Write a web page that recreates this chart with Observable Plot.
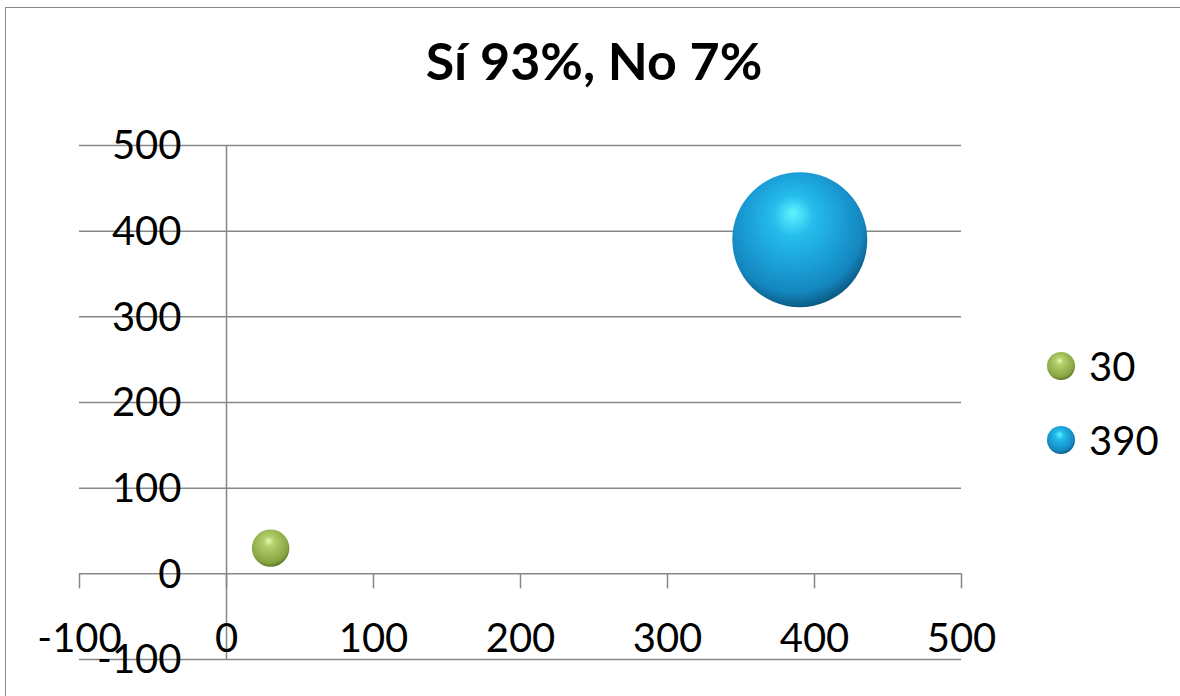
<!DOCTYPE html>
<html>
<head>
<meta charset="utf-8">
<script src="https://cdn.jsdelivr.net/npm/d3@7"></script>
<script src="https://cdn.jsdelivr.net/npm/@observablehq/plot@0.6"></script>
<style>
  html, body { margin: 0; padding: 0; background: #fff; overflow: hidden; }
  #chart { position: relative; width: 1180px; height: 696px; font-family: Lato, "Open Sans", sans-serif; color: #000; }
  #chart svg.plot { position: absolute; left: 0; top: 0; }
  #border { position: absolute; left: 5px; top: 7px; width: 1300px; height: 800px;
            border-left: 1.6px solid #8a8a8a; border-top: 1.6px solid #8a8a8a; }
  #title { position: absolute; left: 0; width: 1188px; top: 34px; text-align: center;
           font-weight: 700; font-size: 52px; line-height: 52px; white-space: nowrap; }
  .legend-item { position: absolute; display: flex; align-items: center; font-size: 40px; line-height: 40px; }
  .legend-item svg { margin-right: 13px; }
</style>
</head>
<body>
<div id="chart">
  <div id="border"></div>
  <div id="title"></div>
</div>
<script>
// Chart text and values
const title = "Sí 93%, No 7%";
const seriesNames = ["30", "390"];
const bubbleX = [30, 390];
const bubbleY = [30, 390];
const bubbleSize = [30, 390];
const xTicks = [-100, 0, 100, 200, 300, 400, 500];
const yTicks = [-100, 0, 100, 200, 300, 400, 500];

// Shaded sphere fills, one per series
const sphereFills = [
  {id: "ballGreen", stops: [[0, "#e6f8b4"], [0.22, "#b6d16e"], [0.6, "#98b652"], [0.85, "#86a443"], [1, "#5c7826"]]},
  {id: "ballBlue",  stops: [[0, "#62f4ff"], [0.25, "#25bdec"], [0.6, "#1a9dd5"], [0.85, "#1486bd"], [1, "#0a5b86"]]}
];

const bubbles = bubbleX.map((x, i) => ({
  name: seriesNames[i], x, y: bubbleY[i], size: bubbleSize[i], fill: `url(#${sphereFills[i].id})`
}));

const chart = document.getElementById("chart");
document.getElementById("title").textContent = title;

const lineColor = "#878787";
const plot = Plot.plot({
  width: 1180,
  height: 696,
  margin: 0,
  style: {fontFamily: "Lato, 'Open Sans', sans-serif", background: "transparent", overflow: "visible"},
  x: {domain: [xTicks[0], xTicks[xTicks.length - 1]], range: [79, 961], axis: null},
  y: {domain: [yTicks[0], yTicks[yTicks.length - 1]], range: [659, 145], axis: null},
  r: {type: "sqrt", domain: [0, 390], range: [0, 67.5]},
  marks: [
    // horizontal gridlines (the one at 0 doubles as the x axis line)
    Plot.ruleY(yTicks, {x1: () => xTicks[0], x2: () => xTicks[xTicks.length - 1], stroke: lineColor, strokeWidth: 1.5}),
    // vertical axis crossing at x = 0
    Plot.ruleX([0], {y1: () => yTicks[0], y2: () => yTicks[yTicks.length - 1], stroke: lineColor, strokeWidth: 1.5}),
    // outward tick marks below the x axis
    Plot.ruleX(xTicks, {y1: () => 0, y2: () => 0, insetBottom: -15, stroke: lineColor, strokeWidth: 1.5}),
    // x tick labels
    Plot.text(xTicks, {x: d => d, y: () => 0, text: d => String(d), dy: 65, fontSize: 40, fill: "#000",
                       textAnchor: "middle", lineAnchor: "middle"}),
    // y tick labels
    Plot.text(yTicks, {x: () => 0, y: d => d, text: d => String(d), dx: -45, dy: 1, fontSize: 40, fill: "#000",
                       textAnchor: "end", lineAnchor: "middle"}),
    // bubbles, area proportional to size
    ...bubbles.map(b => Plot.dot([b], {x: "x", y: "y", r: "size", fill: b.fill, stroke: "none"}))
  ]
});
chart.appendChild(plot);

// gradient definitions used by the bubbles and legend swatches
const defs = d3.select(plot).insert("defs", ":first-child");
sphereFills.forEach(f => {
  const g = defs.append("radialGradient").attr("id", f.id)
    .attr("cx", 0.46).attr("cy", 0.4).attr("r", 0.6)
    .attr("fx", 0.45).attr("fy", 0.3);
  f.stops.forEach(([o, c]) => g.append("stop").attr("offset", o).attr("stop-color", c));
});

// legend on the right
const legendTop = [346, 420];
bubbles.forEach((b, i) => {
  const item = d3.select(chart).append("div").attr("class", "legend-item")
    .style("left", "1046px").style("top", legendTop[i] + "px");
  const sw = item.append("svg").attr("width", 30).attr("height", 40);
  sw.append("circle").attr("cx", 15).attr("cy", 20).attr("r", 14).attr("fill", b.fill);
  item.append("span").text(b.name);
});
</script>
</body>
</html>
